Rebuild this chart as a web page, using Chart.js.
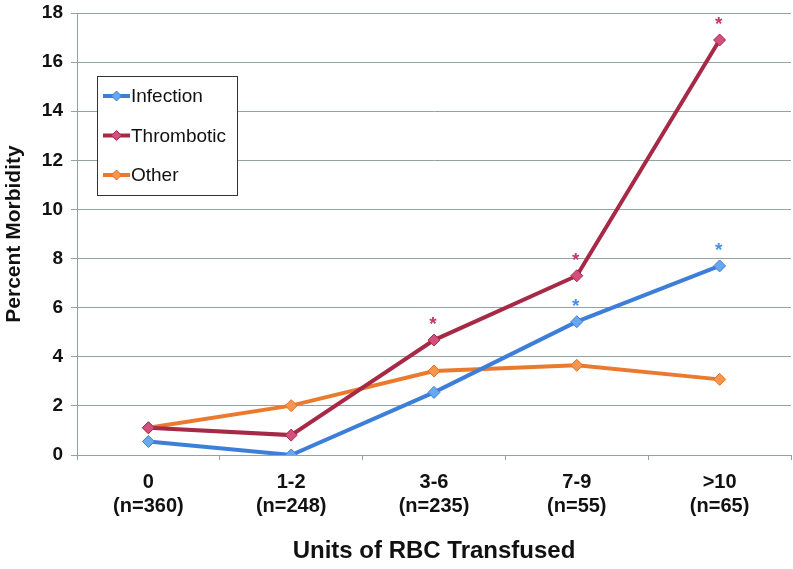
<!DOCTYPE html>
<html><head><meta charset="utf-8">
<script src="https://cdn.jsdelivr.net/npm/chart.js@4/dist/chart.umd.min.js"></script>
<style>html,body{margin:0;padding:0;background:#fff}#wrap{width:793px;height:569px}</style>
</head><body><div id="wrap"><canvas id="c" width="793" height="569"></canvas></div>
<script>
const categories = [['0','(n=360)'],['1-2','(n=248)'],['3-6','(n=235)'],['7-9','(n=55)'],['>10','(n=65)']];
const infection = [0.55, 0.0, 2.55, 5.43, 7.7];
const thrombotic = [1.11, 0.81, 4.68, 7.3, 16.9];
const other = [1.11, 2.01, 3.42, 3.65, 3.08];
const infectionStars = [false, false, false, true, true];
const thromboticStars = [false, false, true, true, true];
const yTicks = [0, 2, 4, 6, 8, 10, 12, 14, 16, 18];

const FONT = "'Liberation Sans', Arial, Helvetica, sans-serif";
const GRID = '#93a2a2';

const starPlugin = {
  id: 'stars',
  afterDatasetsDraw(chart) {
    const ctx = chart.ctx;
    const xs = chart.scales.x, ys = chart.scales.y;
    const draw = (vals, flags, color) => {
      ctx.save();
      ctx.fillStyle = color;
      ctx.font = "bold 19px " + FONT;
      ctx.textAlign = 'center';
      ctx.textBaseline = 'middle';
      vals.forEach((v, i) => {
        if (!flags[i]) return;
        ctx.fillText('*', xs.getPixelForValue(i) - 1, ys.getPixelForValue(v) - 15);
      });
      ctx.restore();
    };
    draw(thrombotic, thromboticStars, '#c23a6a');
    draw(infection, infectionStars, '#4a8fe0');
  }
};

const legendPlugin = {
  id: 'boxLegend',
  afterDraw(chart) {
    const ctx = chart.ctx;
    const x0 = 97, y0 = 76, w = 140, h = 119;
    ctx.save();
    ctx.fillStyle = '#fff';
    ctx.fillRect(x0, y0, w, h);
    ctx.strokeStyle = '#333';
    ctx.lineWidth = 1;
    ctx.strokeRect(x0 + 0.5, y0 + 0.5, w, h);
    chart.data.datasets.forEach((ds, i) => {
      const cy = y0 + 20 + i * 39.5;
      ctx.strokeStyle = ds.borderColor;
      ctx.lineWidth = 4;
      ctx.beginPath();
      ctx.moveTo(103, cy);
      ctx.lineTo(130, cy);
      ctx.stroke();
      ctx.fillStyle = ds.pointBackgroundColor;
      ctx.strokeStyle = ds.pointBorderColor;
      ctx.lineWidth = 1;
      ctx.beginPath();
      ctx.moveTo(116.5, cy - 5); ctx.lineTo(121.5, cy); ctx.lineTo(116.5, cy + 5); ctx.lineTo(111.5, cy); ctx.closePath();
      ctx.fill(); ctx.stroke();
      ctx.fillStyle = '#111';
      ctx.font = "19px " + FONT;
      ctx.textAlign = 'left';
      ctx.textBaseline = 'middle';
      ctx.fillText(ds.label, 131, cy + 1);
    });
    ctx.restore();
  }
};

function mkDs(label, data, line, fill, border) {
  return {
    label, data, borderColor: line, borderWidth: 4,
    pointStyle: 'rectRot', pointRadius: 6, pointHoverRadius: 6,
    pointBackgroundColor: fill, pointBorderColor: border, pointBorderWidth: 1,
    tension: 0, fill: false
  };
}

new Chart(document.getElementById('c'), {
  type: 'line',
  data: {
    labels: categories,
    datasets: [
      mkDs('Infection', infection, '#3d7fd8', '#6aa8ee', '#3d7fd8'),
      mkDs('Thrombotic', thrombotic, '#a62a45', '#d24f80', '#a62a45'),
      mkDs('Other', other, '#ea7a2e', '#f5954e', '#e0702a')
    ]
  },
  options: {
    responsive: false, animation: false, devicePixelRatio: 1,
    layout: { autoPadding: false, padding: { top: 13, right: 2, left: 0, bottom: 0 } },
    plugins: { legend: { display: false }, tooltip: { enabled: false } },
    scales: {
      x: {
        offset: true,
        grid: { display: true, offset: true, drawOnChartArea: false, drawTicks: true, tickLength: 5, color: GRID },
        border: { color: GRID, width: 1 },
        ticks: { color: '#111', font: { family: FONT, size: 20, weight: 'bold' }, padding: 10, maxRotation: 0, autoSkip: false },
        title: { display: true, text: 'Units of RBC Transfused', color: '#111', font: { family: FONT, size: 24, weight: 'bold' }, padding: { top: 10, bottom: 3 } },
        afterFit(s) { s.height = 114; s.paddingLeft = 0; s.paddingRight = 0; }
      },
      y: {
        min: 0, max: 18,
        afterBuildTicks(s) { s.ticks = yTicks.map(v => ({ value: v })); },
        grid: { color: GRID, lineWidth: 1, tickLength: 6 },
        border: { color: GRID, width: 1 },
        ticks: { color: '#111', font: { family: FONT, size: 19, weight: 'bold' }, padding: 8 },
        title: { display: true, text: 'Percent Morbidity', color: '#111', font: { family: FONT, size: 21, weight: 'bold' }, padding: { top: 2, bottom: 4 } },
        afterFit(s) { s.width = 77; s.paddingTop = 0; s.paddingBottom = 0; }
      }
    }
  },
  plugins: [starPlugin, legendPlugin]
});
</script></body></html>
